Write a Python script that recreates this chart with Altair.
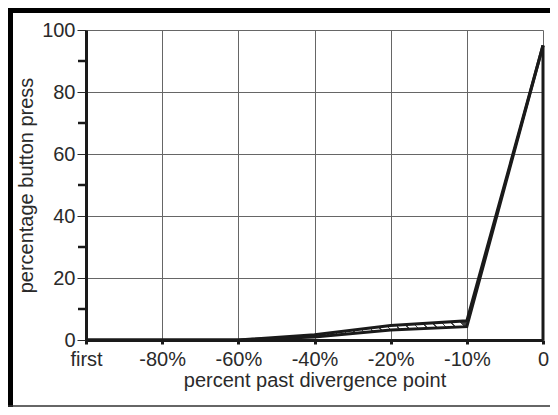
import altair as alt
import pandas as pd

# ---- data ----
categories = ["first", "-80%", "-60%", "-40%", "-20%", "-10%", "0"]
upper = [0, 0, 0, 1.7, 4.7, 6.2, 95]
lower = [0, 0, 0, 1.0, 3.2, 4.3, 95]
hatch_cats = ["-40%", "-20%", "-10%"]
y_ticks = [0, 20, 40, 60, 80, 100]
y_minor = [10, 30, 50, 70, 90]

df = pd.DataFrame({"cat": categories, "upper": upper, "lower": lower})
long = df.melt("cat", var_name="series", value_name="pct")
hatch_df = df[df["cat"].isin(hatch_cats)]
minor_df = pd.DataFrame({"v": y_minor})
rule_df = pd.DataFrame({"cat": [categories[-1]], "y0": [0], "y1": [upper[-1]]})
one = pd.DataFrame({"a": [0]})

W, H = 457, 310
PAD = {"left": 78, "top": 22, "right": 7, "bottom": 67}
FONT = "Liberation Sans"
INK = "#1a1a1a"
TXT = "#2a2a2a"

xscale = alt.Scale(type="point", padding=0)
yscale = alt.Scale(domain=[0, 100], nice=False)

X_AXIS = alt.Axis(title="percent past divergence point", labelAngle=0, grid=True,
                  labelOverlap=False, tickSize=4, tickWidth=3, tickColor=INK,
                  domainWidth=3, domainColor=INK, labelPadding=5, titlePadding=1)
Y_AXIS = alt.Axis(title="percentage button press", values=y_ticks, grid=True,
                  tickSize=9, tickWidth=1, tickColor=TXT, domainWidth=3,
                  domainColor=INK, labelPadding=2, titlePadding=5)

# hatch via a striped linear gradient
N = 16
stops = []
for i in range(N):
    a = i / N
    b = (i + 0.84) / N
    c = (i + 1) / N
    stops += [
        alt.GradientStop(offset=a, color="white"),
        alt.GradientStop(offset=b, color="white"),
        alt.GradientStop(offset=b, color="#444444"),
        alt.GradientStop(offset=c, color="#444444"),
    ]
hatch_fill = alt.LinearGradient(gradient="linear", stops=stops, x1=0, y1=0.55, x2=1, y2=0.45)

hatch = alt.Chart(hatch_df).mark_area(fill=hatch_fill, strokeWidth=0).encode(
    x=alt.X("cat:N", sort=categories, scale=xscale, axis=X_AXIS),
    y=alt.Y("lower:Q", scale=yscale, axis=Y_AXIS),
    y2="upper:Q",
)

lines = alt.Chart(long).mark_line(color=INK, strokeWidth=3, strokeJoin="miter").encode(
    x=alt.X("cat:N", sort=categories, scale=xscale, axis=X_AXIS),
    y=alt.Y("pct:Q", scale=yscale, axis=Y_AXIS),
    detail="series:N",
)

vrule = alt.Chart(rule_df).mark_rule(color=INK, strokeWidth=3).encode(
    x=alt.X("cat:N", sort=categories, scale=xscale, axis=X_AXIS),
    y=alt.Y("y0:Q", scale=yscale, axis=Y_AXIS),
    y2="y1:Q",
)

minor = alt.Chart(minor_df).mark_rule(color=INK, strokeWidth=2.5).encode(
    y=alt.Y("v:Q", scale=yscale, axis=Y_AXIS),
    x=alt.value(-8), x2=alt.value(0),
)

border_left = alt.Chart(one).mark_rule(color="black", strokeWidth=5).encode(
    x=alt.value(-PAD["left"] + 2.5), y=alt.value(-PAD["top"]), y2=alt.value(H + PAD["bottom"])
)
border_top = alt.Chart(one).mark_rule(color="black", strokeWidth=5).encode(
    y=alt.value(-PAD["top"] + 2.5), x=alt.value(-PAD["left"]), x2=alt.value(W + PAD["right"])
)
border_bottom = alt.Chart(one).mark_rule(color="#333333", strokeWidth=1.5).encode(
    y=alt.value(H + PAD["bottom"] - 1), x=alt.value(-PAD["left"]), x2=alt.value(W + PAD["right"])
)

chart = alt.layer(
    hatch, lines, vrule, minor, border_left, border_top, border_bottom
).properties(
    width=W, height=H, padding=PAD, autosize=alt.AutoSizeParams(type="none"),
    background="white",
).configure_view(stroke=None).configure_axis(
    labelFont=FONT, titleFont=FONT, labelFontSize=20, titleFontSize=20,
    labelColor=TXT, titleColor=TXT, titleFontWeight="normal",
    gridColor="#666666", gridWidth=1, gridOpacity=1,
)

chart.save("out.html", embed_options={"renderer": "svg", "actions": False})
